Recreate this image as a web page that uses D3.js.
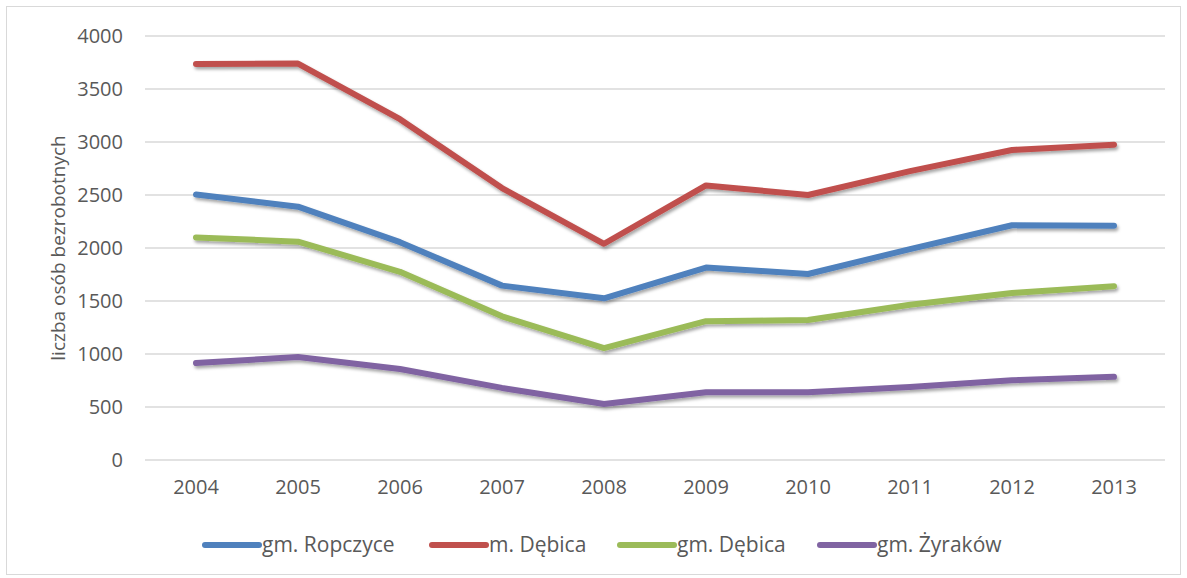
<!DOCTYPE html>
<html>
<head>
<meta charset="utf-8">
<script src="https://cdn.jsdelivr.net/npm/d3@7"></script>
<style>
  body { margin: 0; background: #fff; }
  text { font-family: "Open Sans", "DejaVu Sans", sans-serif; fill: #595959; }
</style>
</head>
<body>
<div id="chart"></div>
<script>
// data
const years = ['2004', '2005', '2006', '2007', '2008', '2009', '2010', '2011', '2012', '2013'];
const seriesNames = ['gm. Ropczyce', 'm. Dębica', 'gm. Dębica', 'gm. Żyraków'];
const ropczyce = [2505, 2390, 2055, 1645, 1525, 1815, 1755, 1990, 2215, 2210];
const debicaM = [3735, 3740, 3215, 2565, 2040, 2590, 2500, 2725, 2925, 2975];
const debicaGm = [2100, 2060, 1775, 1355, 1055, 1310, 1320, 1465, 1575, 1640];
const zyrakow = [915, 972, 858, 680, 528, 640, 640, 688, 752, 785];
const yTicks = [0, 500, 1000, 1500, 2000, 2500, 3000, 3500, 4000];
const colors = ['#4F81BD', '#C0504D', '#9BBB59', '#8064A2'];

const width = 1187, height = 578;
const margin = { top: 36, right: 22, bottom: 118, left: 145 };

const svg = d3.select('#chart')
  .append('svg')
  .attr('width', width)
  .attr('height', height);

// shadow
const defs = svg.append('defs');
const filter = defs.append('filter').attr('id', 'shadow')
  .attr('x', '-5%').attr('y', '-20%').attr('width', '110%').attr('height', '140%');
filter.append('feDropShadow')
  .attr('dx', 1.5).attr('dy', 2.5).attr('stdDeviation', 1.5)
  .attr('flood-color', '#000').attr('flood-opacity', 0.35);

// outer frame
svg.append('rect')
  .attr('x', 6.5).attr('y', 6.5)
  .attr('width', width - 13).attr('height', height - 10)
  .attr('fill', 'none')
  .attr('stroke', '#d9d9d9')
  .attr('stroke-width', 1);

const x = d3.scaleBand()
  .domain(years)
  .range([margin.left, width - margin.right]);

const y = d3.scaleLinear()
  .domain([0, 4000])
  .range([height - margin.bottom, margin.top]);

// gridlines
svg.append('g')
  .selectAll('line')
  .data(yTicks)
  .enter()
  .append('line')
  .attr('x1', margin.left)
  .attr('x2', width - margin.right)
  .attr('y1', d => y(d))
  .attr('y2', d => y(d))
  .attr('stroke', '#d9d9d9')
  .attr('stroke-width', 1.5);

// y axis labels
const yAxis = svg.append('g')
  .attr('transform', `translate(${margin.left - 22},0)`)
  .call(d3.axisLeft(y).tickValues(yTicks).tickFormat(d3.format('d')).tickSize(0).tickPadding(0));
yAxis.select('.domain').remove();
yAxis.attr('font-size', null).attr('font-family', null);
yAxis.selectAll('text')
  .style('font-size', '20px')
  .attr('fill', '#595959');

// x axis labels
const xAxis = svg.append('g')
  .attr('transform', `translate(0,${y(0) + 20})`)
  .call(d3.axisBottom(x).tickSize(0).tickPadding(0));
xAxis.select('.domain').remove();
xAxis.attr('font-size', null).attr('font-family', null);
xAxis.selectAll('text')
  .style('font-size', '20px')
  .attr('fill', '#595959')
  .attr('dy', '0.71em');

// y axis title
svg.append('text')
  .attr('transform', `translate(58,${(y(0) + y(4000)) / 2}) rotate(-90)`)
  .attr('text-anchor', 'middle')
  .attr('dy', '0.35em')
  .style('font-size', '19px')
  .text('liczba osób bezrobotnych');

// lines
const allSeries = [ropczyce, debicaM, debicaGm, zyrakow];
const line = d3.line()
  .x((d, i) => x(years[i]) + x.bandwidth() / 2)
  .y(d => y(d));

svg.append('g')
  .selectAll('path')
  .data(allSeries)
  .enter()
  .append('path')
  .attr('d', d => line(d))
  .attr('fill', 'none')
  .attr('stroke', (d, i) => colors[i])
  .attr('stroke-width', 6)
  .attr('stroke-linecap', 'round')
  .attr('stroke-linejoin', 'round')
  .attr('filter', 'url(#shadow)');

// legend
const legendX = [205, 432, 620, 820];
const legend = svg.append('g')
  .selectAll('g')
  .data(seriesNames)
  .enter()
  .append('g')
  .attr('transform', (d, i) => `translate(${legendX[i]},545)`);
legend.append('line')
  .attr('x1', 0).attr('x2', 54)
  .attr('y1', 0).attr('y2', 0)
  .attr('stroke', (d, i) => colors[i])
  .attr('stroke-width', 6)
  .attr('stroke-linecap', 'round');
legend.append('text')
  .attr('x', 57)
  .attr('y', 0)
  .attr('dy', '0.35em')
  .style('font-size', '21px')
  .text(d => d);
</script>
</body>
</html>
